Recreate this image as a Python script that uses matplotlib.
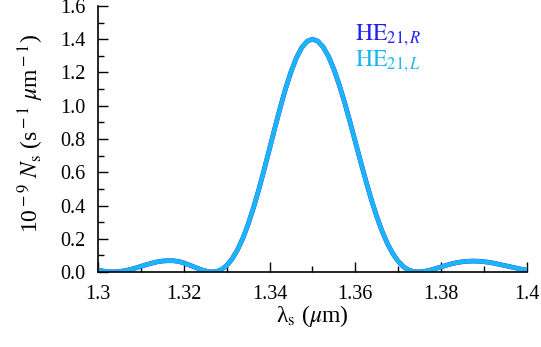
import matplotlib
matplotlib.use("Agg")
import matplotlib.pyplot as plt
from matplotlib.ticker import MultipleLocator

plt.rcParams.update(
    {
        "font.family": "serif",
        "font.serif": ["Liberation Serif", "DejaVu Serif"],
        "mathtext.fontset": "stix",
        "font.size": 14,
    }
)

# signal wavelength (um), every 0.00125 um
wavelength = [
    1.30000, 1.30125, 1.30250, 1.30375, 1.30500, 1.30625, 1.30750, 1.30875, 1.31000, 1.31125,
    1.31250, 1.31375, 1.31500, 1.31625, 1.31750, 1.31875, 1.32000, 1.32125, 1.32250, 1.32375,
    1.32500, 1.32625, 1.32750, 1.32875, 1.33000, 1.33125, 1.33250, 1.33375, 1.33500, 1.33625,
    1.33750, 1.33875, 1.34000, 1.34125, 1.34250, 1.34375, 1.34500, 1.34625, 1.34750, 1.34875,
    1.35000, 1.35125, 1.35250, 1.35375, 1.35500, 1.35625, 1.35750, 1.35875, 1.36000, 1.36125,
    1.36250, 1.36375, 1.36500, 1.36625, 1.36750, 1.36875, 1.37000, 1.37125, 1.37250, 1.37375,
    1.37500, 1.37625, 1.37750, 1.37875, 1.38000, 1.38125, 1.38250, 1.38375, 1.38500, 1.38625,
    1.38750, 1.38875, 1.39000, 1.39125, 1.39250, 1.39375, 1.39500, 1.39625, 1.39750, 1.39875,
    1.40000,
]
# 1e-9 Ns for HE21,R (HE21,L lies on top of it)
ns_right = [
    0.012, 0.006, 0.002, 0.001, 0.003, 0.008, 0.015, 0.024, 0.034, 0.044,
    0.053, 0.061, 0.066, 0.068, 0.068, 0.064, 0.055, 0.043, 0.030, 0.017,
    0.007, 0.001, 0.002, 0.014, 0.039, 0.078, 0.132, 0.201, 0.286, 0.385,
    0.496, 0.616, 0.741, 0.867, 0.989, 1.103, 1.203, 1.287, 1.349, 1.387,
    1.400, 1.388, 1.353, 1.296, 1.219, 1.125, 1.020, 0.903, 0.783, 0.662,
    0.545, 0.434, 0.333, 0.245, 0.170, 0.110, 0.064, 0.031, 0.011, 0.002,
    0.001, 0.005, 0.012, 0.021, 0.031, 0.041, 0.050, 0.057, 0.062, 0.065,
    0.066, 0.065, 0.062, 0.058, 0.052, 0.045, 0.038, 0.031, 0.024, 0.017,
    0.011,
]
ns_left = list(ns_right)

x_ticks = [1.3, 1.32, 1.34, 1.36, 1.38, 1.4]
x_ticklabels = ["1.3", "1.32", "1.34", "1.36", "1.38", "1.4"]
y_ticks = [0.0, 0.2, 0.4, 0.6, 0.8, 1.0, 1.2, 1.4, 1.6]
y_ticklabels = ["0.0", "0.2", "0.4", "0.6", "0.8", "1.0", "1.2", "1.4", "1.6"]

BLUE = "#1f1ff5"
CYAN = "#1ab5f4"

fig = plt.figure(figsize=(5.41, 3.47), dpi=100)
ax = fig.add_axes([0.181, 0.216, 0.793, 0.767])

ax.plot(wavelength, ns_right, color=BLUE, lw=3.4, solid_capstyle="round", solid_joinstyle="round")
ax.plot(wavelength, ns_left, color=CYAN, lw=3.2, solid_capstyle="round", solid_joinstyle="round")

ax.set_xlim(1.3, 1.4)
ax.set_ylim(0, 1.6)
ax.set_xticks(x_ticks)
ax.set_xticklabels(x_ticklabels)
ax.set_yticks(y_ticks)
ax.set_yticklabels(y_ticklabels)
ax.xaxis.set_minor_locator(MultipleLocator(0.01))
ax.yaxis.set_minor_locator(MultipleLocator(0.1))

ax.tick_params(which="major", direction="in", length=7, width=1.0, labelsize=14.5, pad=9)
ax.tick_params(which="minor", direction="in", length=4, width=1.0)
ax.spines["top"].set_visible(False)
ax.spines["right"].set_visible(False)
for s in ("left", "bottom"):
    ax.spines[s].set_linewidth(1.2)

ax.set_xlabel(r"λ$_{\rm s}$ ($\mu$m)", fontsize=17)
ax.set_ylabel(r"10$^{\rm -9}$ $N_{\rm s}$ (s$^{\rm -1}$ $\mu$m$^{\rm -1}$)", fontsize=17)
ax.xaxis.set_label_coords(0.5, -0.116)
ax.yaxis.set_label_coords(-0.122, 0.52)

ax.text(0.599, 0.872, r"$\mathrm{HE}_{21,R}$", color=BLUE, fontsize=17,
        transform=ax.transAxes, va="baseline")
ax.text(0.599, 0.772, r"$\mathrm{HE}_{21,L}$", color=CYAN, fontsize=17,
        transform=ax.transAxes, va="baseline")

fig.savefig("out.png", dpi=100)
